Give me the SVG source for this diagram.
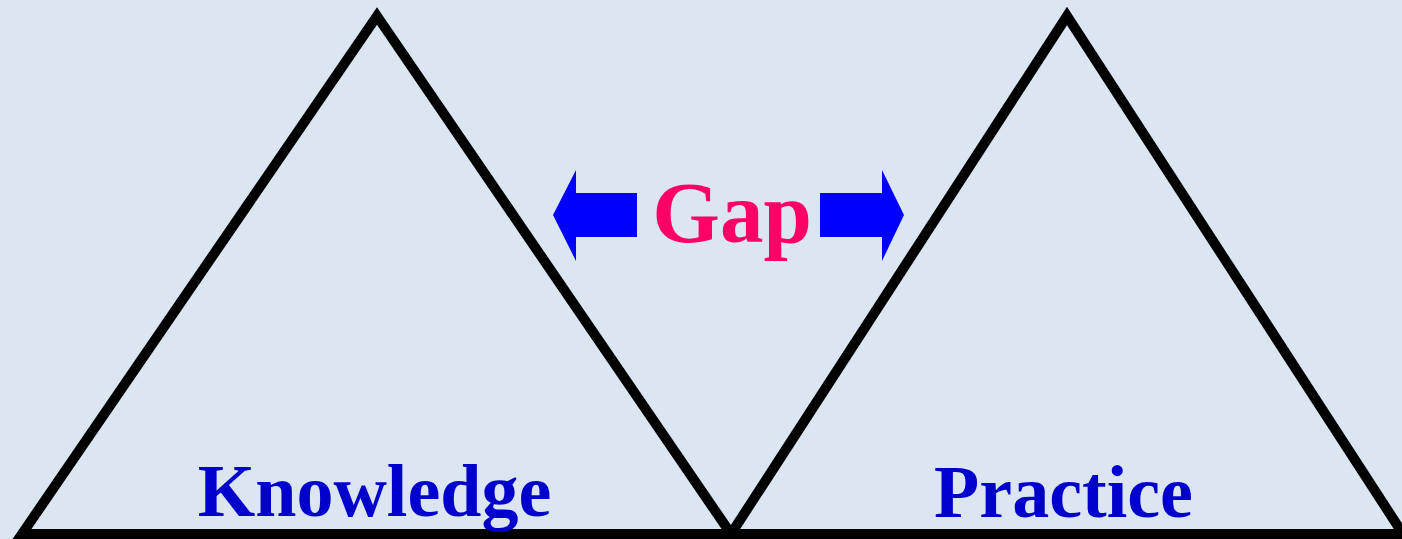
<svg xmlns="http://www.w3.org/2000/svg" width="1402" height="539" viewBox="0 0 1402 539">
<style>
.tri{fill:none;stroke:#000;stroke-width:10;stroke-linejoin:miter;stroke-miterlimit:10}
.lbl{font-family:"Liberation Serif","Times New Roman",serif;font-weight:bold;text-anchor:middle}
.arr{fill:#0000FF}
</style>
<rect width="1402" height="539" fill="#DCE6F2"/>
<g id="knowledge">
<polygon class="tri" points="22,534 377,16 731,534"/>
<text class="lbl" x="374.5" y="516" font-size="74" fill="#0000CC">Knowledge</text>
</g>
<g id="practice">
<polygon class="tri" points="731,534 1067,16 1403,534"/>
<text class="lbl" x="1063.5" y="517" font-size="74" fill="#0000CC">Practice</text>
</g>
<g id="gap">
<text class="lbl" x="732" y="242" font-size="87" fill="#FF0066">Gap</text>
</g>
<g id="connectors">
<polygon class="arr" points="553,215 576,170 576,193 637,193 637,237 576,237 576,261"/>
<polygon class="arr" points="904,215 882,170 882,193 820,193 820,237 882,237 882,261"/>
</g>
</svg>
